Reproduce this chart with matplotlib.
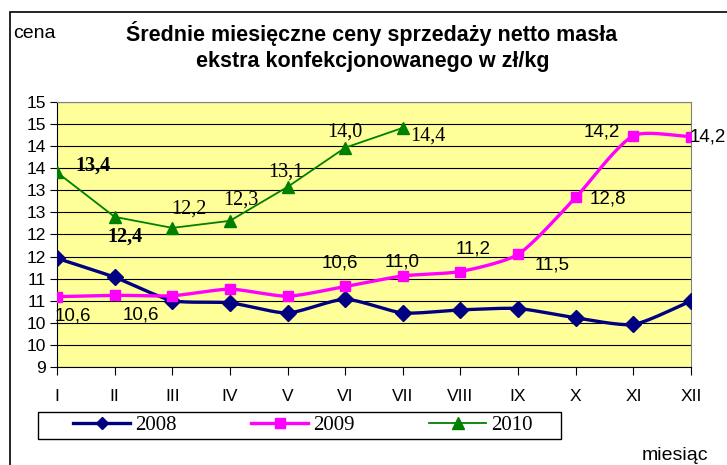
import numpy as np
import matplotlib
matplotlib.use('Agg')
import matplotlib.pyplot as plt
from matplotlib.ticker import MultipleLocator, FuncFormatter
from matplotlib.patches import Rectangle
from matplotlib.lines import Line2D

# dane
months = ['I', 'II', 'III', 'IV', 'V', 'VI', 'VII', 'VIII', 'IX', 'X', 'XI', 'XII']
y2008 = [11.46, 11.03, 10.50, 10.45, 10.22, 10.53, 10.22, 10.29, 10.32, 10.11, 9.96, 10.49]
y2009 = [10.59, 10.62, 10.61, 10.76, 10.60, 10.82, 11.06, 11.16, 11.55, 12.84, 14.24, 14.22]
y2010 = [13.41, 12.40, 12.15, 12.31, 13.08, 13.97, 14.42]

# etykiety danych (tekst jak na wykresie)
lab2009 = {0: '10,6', 1: '10,6', 5: '10,6', 6: '11,0', 7: '11,2', 8: '11,5',
           9: '12,8', 10: '14,2', 11: '14,2'}
lab2010 = ['13,4', '12,4', '12,2', '12,3', '13,1', '14,0', '14,4']


def smooth(xs, ys, yscale=0.765, tension=0.22, n=24):
    # wygladzanie linii podobne do Excela (Bezier, styczne normalizowane)
    P = np.column_stack([np.asarray(xs, float), np.asarray(ys, float) * yscale])
    m = len(P)
    tang = np.zeros_like(P)
    for i in range(m):
        a = P[max(i - 1, 0)]
        b = P[min(i + 1, m - 1)]
        d = b - a
        tang[i] = d / np.hypot(*d)
    t = np.linspace(0, 1, n)[:, None]
    out = []
    for i in range(m - 1):
        p1, p2 = P[i], P[i + 1]
        L = np.hypot(*(p2 - p1)) * tension
        c1 = p1 + tang[i] * L
        c2 = p2 - tang[i + 1] * L
        seg = (1 - t) ** 3 * p1 + 3 * (1 - t) ** 2 * t * c1 + 3 * (1 - t) * t ** 2 * c2 + t ** 3 * p2
        out.append(seg)
    out = np.vstack(out)
    return out[:, 0], out[:, 1] / yscale


W, H = 727, 465
fig = plt.figure(figsize=(W / 100, H / 100), dpi=100)

# ramka wykresu
fig.patches.append(Rectangle((10 / W, -0.05), 1.2, (H - 12) / H + 0.05, transform=fig.transFigure,
                             fill=False, edgecolor='black', linewidth=1.2))

ax = fig.add_axes([57 / W, (H - 366.7) / H, (691 - 57) / W, (366.7 - 102.3) / H])
ax.set_facecolor('#FFFF99')

x = np.arange(len(months))
c08, c09, c10 = '#000080', '#FF00FF', '#008000'

sx, sy = smooth(x, y2008)
ax.plot(sx, sy, color=c08, lw=2.4, zorder=3)
ax.plot(x, y2008, ls='none', marker='D', ms=8.5, color=c08, zorder=4)

sx, sy = smooth(x, y2009)
ax.plot(sx, sy, color=c09, lw=2.4, zorder=3)
ax.plot(x, y2009, ls='none', marker='s', ms=7.5, color=c09, zorder=4)

ax.plot(x[:len(y2010)], y2010, color=c10, lw=1.3, marker='^', ms=9, zorder=5)

ax.set_xlim(0, 11)
ax.set_ylim(9, 15)
ax.yaxis.set_major_locator(MultipleLocator(0.5))
ax.yaxis.set_major_formatter(FuncFormatter(lambda v, p: '%d' % int(np.floor(v + 0.5))))
ax.grid(axis='y', color='black', lw=0.8)
ax.set_axisbelow(True)
ax.set_xticks(x)
ax.set_xticklabels(months)
ax.tick_params(axis='x', direction='out', length=6, pad=10, labelsize=12.5)
ax.tick_params(axis='y', direction='out', length=5, labelsize=12.5, pad=3)
for lab in ax.get_xticklabels() + ax.get_yticklabels():
    lab.set_fontfamily('Liberation Sans')
ax.spines['top'].set_color('#808080')
ax.spines['right'].set_color('#808080')

# etykiety danych
k = 0.72
off10 = [(36, 7, True), (10, -20, True), (17, 19, False), (11, 21, False),
         (-2, 15, False), (0, 16, False), (25, -8, False)]
for i, (dx, dy, b) in enumerate(off10):
    ax.annotate(lab2010[i], (x[i], y2010[i]), xytext=(dx * k, dy * k), textcoords='offset points',
                ha='center', va='center', fontsize=14.5, family='Liberation Serif',
                fontweight='bold' if b else 'normal', zorder=6)

off09 = {0: (16, -19), 1: (26, -20), 5: (-5, 23), 6: (-1, 14), 7: (13, 23), 8: (34, -11),
         9: (32, -2), 10: (-32, 4), 11: (-1, 0)}
for i, t in lab2009.items():
    dx, dy = off09[i]
    ax.annotate(t, (x[i], y2009[i]), xytext=(dx * k, dy * k), textcoords='offset points',
                ha='left' if i == 11 else 'center', va='center', fontsize=13.5,
                family='Liberation Sans', zorder=6, annotation_clip=False)

# tytul
fig.text(372 / W, 1 - 33 / H, 'Średnie miesięczne ceny sprzedaży netto masła',
         ha='center', va='center', fontsize=15.5, fontweight='bold', family='Liberation Sans')
fig.text(373 / W, 1 - 62 / H, 'ekstra konfekcjonowanego w zł/kg',
         ha='center', va='center', fontsize=15.5, fontweight='bold', family='Liberation Sans')
fig.text(13 / W, 1 - 34 / H, 'cena', ha='left', va='center', fontsize=14, family='Liberation Sans')
fig.text(642 / W, 1 - 455 / H, 'miesiąc', ha='left', va='center', fontsize=14, family='Liberation Sans')

# legenda
fig.patches.append(Rectangle((38 / W, (H - 439) / H), (561 - 38) / W, 27 / H, transform=fig.transFigure,
                             fill=True, facecolor='white', edgecolor='black', linewidth=1.0))
h1 = Line2D([], [], color=c08, lw=2.4, marker='D', ms=6.5)
h2 = Line2D([], [], color=c09, lw=2.4, marker='s', ms=7)
h3 = Line2D([], [], color=c10, lw=1.3, marker='^', ms=8)
leg = fig.legend([h1, h2, h3], ['2008', '2009', '2010'], ncol=3, loc='center left',
                 bbox_to_anchor=(73 / W, (H - 425.5) / H), frameon=False, borderaxespad=0,
                 borderpad=0, handlelength=2.75, handletextpad=0.25, columnspacing=3.55,
                 prop={'family': 'Liberation Serif', 'size': 15})

fig.savefig('out.png', dpi=100)
